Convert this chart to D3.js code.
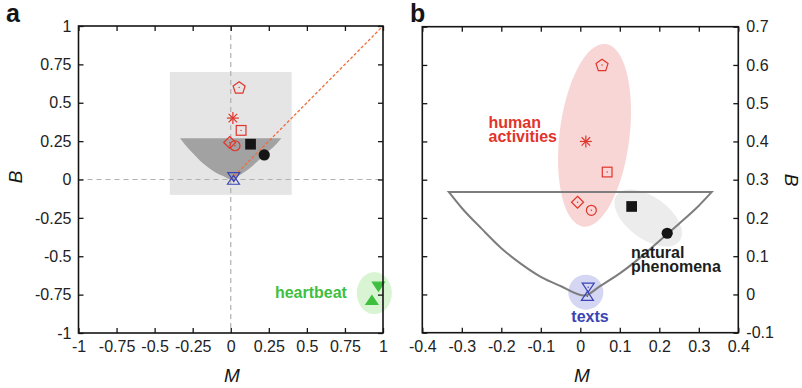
<!DOCTYPE html>
<html>
<head>
<meta charset="utf-8">
<script src="https://cdn.jsdelivr.net/npm/d3@7"></script>
<style>
  body { margin: 0; background: #fff; }
  svg { display: block; }
  text { font-family: "Liberation Sans", Arial, Helvetica, sans-serif; }
</style>
</head>
<body>
<div id="chart"></div>
<script>
// ---- data (M = memory coefficient, B = burstiness) ----
// human activities
var humanM = [0.055, 0.014, 0.068, -0.007, 0.028];
var humanB = [0.600, 0.400, 0.320, 0.241, 0.220];
var humanShape = ["pentagon", "asterisk", "square", "diamond", "circle"];

// natural phenomena
var naturalM = [0.130, 0.220];
var naturalB = [0.230, 0.160];
var naturalShape = ["square", "circle"];

// texts
var textsM = [0.020, 0.018];
var textsB = [0.019, -0.005];
var textsShape = ["triangleDown", "triangleUp"];

// heartbeat
var heartM = [0.970, 0.927];
var heartB = [-0.695, -0.788];
var heartShape = ["triangleDown", "triangleUp"];

// boundary of the region
var boundM = [-0.333, -0.3, -0.25, -0.2, -0.15, -0.1, -0.05, 0.01, 0.05, 0.1, 0.15, 0.2, 0.25, 0.3, 0.333];
var boundB = [0.268, 0.226, 0.172, 0.121, 0.080, 0.046, 0.022, -0.003, 0.022, 0.055, 0.095, 0.140, 0.185, 0.232, 0.268];

// ticks
var ticksA = [-1, -0.75, -0.5, -0.25, 0, 0.25, 0.5, 0.75, 1];
var tickLabelsA = ["-1", "-0.75", "-0.5", "-0.25", "0", "0.25", "0.5", "0.75", "1"];
var xTicksB = [-0.4, -0.3, -0.2, -0.1, 0, 0.1, 0.2, 0.3, 0.4];
var xTickLabelsB = ["-0.4", "-0.3", "-0.2", "-0.1", "0", "0.1", "0.2", "0.3", "0.4"];
var yTicksB = [-0.1, 0, 0.1, 0.2, 0.3, 0.4, 0.5, 0.6, 0.7];
var yTickLabelsB = ["-0.1", "0", "0.1", "0.2", "0.3", "0.4", "0.5", "0.6", "0.7"];

// colours
var red = "#e1342b";
var blue = "#3a44b2";
var green = "#3fbf3f";
var dark = "#151515";

var svg = d3.select("#chart").append("svg")
    .attr("width", 802)
    .attr("height", 388);

// scales
var xA = d3.scaleLinear().domain([-1, 1]).range([78.5, 383]);
var yA = d3.scaleLinear().domain([-1, 1]).range([333, 26]);
var xB = d3.scaleLinear().domain([-0.4, 0.4]).range([422.3, 738.3]);
var yB = d3.scaleLinear().domain([-0.1, 0.7]).range([332.7, 26.7]);

// draw one marker
function marker(g, shape, cx, cy, color, filled) {
    var m = g.append("g").attr("transform", "translate(" + cx + "," + cy + ")");
    var fill = filled ? color : "none";
    var sw = 1.2;
    var dot = !filled;
    if (shape == "pentagon") {
        var pts = d3.range(5).map(function(k) {
            var a = (-90 + k * 72) * Math.PI / 180;
            return [6.3 * Math.cos(a), 6.3 * Math.sin(a) + 0.6];
        });
        m.append("polygon").attr("points", pts.join(" "))
            .attr("fill", fill).attr("stroke", color).attr("stroke-width", sw);
    } else if (shape == "asterisk") {
        d3.range(4).forEach(function(k) {
            var a = k * 45 * Math.PI / 180;
            m.append("line")
                .attr("x1", -6 * Math.cos(a)).attr("y1", -6 * Math.sin(a))
                .attr("x2", 6 * Math.cos(a)).attr("y2", 6 * Math.sin(a))
                .attr("stroke", color).attr("stroke-width", sw);
        });
        dot = false;
    } else if (shape == "square") {
        var s = filled ? 10.7 : 9.7;
        m.append("rect").attr("x", -s / 2).attr("y", -s / 2).attr("width", s).attr("height", s)
            .attr("fill", fill).attr("stroke", color).attr("stroke-width", filled ? 0 : sw);
    } else if (shape == "diamond") {
        m.append("polygon").attr("points", "0,-6 6,0 0,6 -6,0")
            .attr("fill", fill).attr("stroke", color).attr("stroke-width", sw);
    } else if (shape == "circle") {
        m.append("circle").attr("r", filled ? 5.6 : 5)
            .attr("fill", fill).attr("stroke", color).attr("stroke-width", filled ? 0 : sw);
    } else if (shape == "triangleUp") {
        m.append("polygon").attr("points", "0,-5 6,4 -6,4")
            .attr("fill", fill).attr("stroke", color).attr("stroke-width", sw);
    } else if (shape == "triangleDown") {
        m.append("polygon").attr("points", "0,5 6,-4 -6,-4")
            .attr("fill", fill).attr("stroke", color).attr("stroke-width", sw);
    }
    if (dot) {
        m.append("circle").attr("r", 0.7).attr("fill", color);
    }
}

function group(g, x, y, ms, bs, shapes, color, filled) {
    ms.forEach(function(mv, i) {
        marker(g, shapes[i], x(mv), y(bs[i]), color, filled);
    });
}

// axes with inward ticks on all four sides
function frame(g, x, y, xt, xl, yt, yl, labelSide) {
    var x0 = x.range()[0], x1 = x.range()[1];
    var y0 = y.range()[1], y1 = y.range()[0];

    var bottom = g.append("g").attr("transform", "translate(0," + y1 + ")")
        .call(d3.axisBottom(x).tickValues(xt).tickSize(-5).tickPadding(8)
            .tickFormat(function(d, i) { return xl[i]; }));
    g.append("g").attr("transform", "translate(0," + y0 + ")")
        .call(d3.axisTop(x).tickValues(xt).tickSize(-5).tickFormat(""));

    var left, right;
    if (labelSide == "left") {
        left = d3.axisLeft(y).tickValues(yt).tickSize(-5).tickPadding(7)
            .tickFormat(function(d, i) { return yl[i]; });
        right = d3.axisRight(y).tickValues(yt).tickSize(-5).tickFormat("");
    } else {
        left = d3.axisLeft(y).tickValues(yt).tickSize(-5).tickFormat("");
        right = d3.axisRight(y).tickValues(yt).tickSize(-5).tickPadding(8)
            .tickFormat(function(d, i) { return yl[i]; });
    }
    g.append("g").attr("transform", "translate(" + x0 + ",0)").call(left);
    g.append("g").attr("transform", "translate(" + x1 + ",0)").call(right);

    g.selectAll(".domain").remove();
    g.selectAll(".tick line").attr("stroke", dark).attr("stroke-width", 1.3);
    g.selectAll(".tick text")
        .attr("font-size", 16)
        .attr("font-family", '"Liberation Sans", Arial, sans-serif')
        .attr("fill", "#222");

    g.append("rect")
        .attr("x", x0).attr("y", y0)
        .attr("width", x1 - x0).attr("height", y1 - y0)
        .attr("fill", "none").attr("stroke", dark).attr("stroke-width", 1.6);
}

var boundLine = d3.line().curve(d3.curveMonotoneX);

// ****************** panel a ******************
var ga = svg.append("g");

// region shown in panel b
ga.append("rect")
    .attr("x", xA(xB.domain()[0])).attr("y", yA(yB.domain()[1]))
    .attr("width", xA(xB.domain()[1]) - xA(xB.domain()[0]))
    .attr("height", yA(yB.domain()[0]) - yA(yB.domain()[1]))
    .attr("fill", "#e5e5e5");

// dashed zero lines
ga.append("line")
    .attr("x1", xA(0)).attr("x2", xA(0)).attr("y1", yA(1)).attr("y2", yA(-1))
    .attr("stroke", "#b0b0b0").attr("stroke-width", 1.2).attr("stroke-dasharray", "5,4");
ga.append("line")
    .attr("x1", xA(-1)).attr("x2", xA(1)).attr("y1", yA(0)).attr("y2", yA(0))
    .attr("stroke", "#b0b0b0").attr("stroke-width", 1.2).attr("stroke-dasharray", "5,4");

// filled region
var ptsA = boundM.map(function(m, i) { return [xA(m), yA(boundB[i])]; });
ga.append("path")
    .attr("d", boundLine(ptsA) + "Z")
    .attr("fill", "#a2a2a2");

// heartbeat ellipse
ga.append("ellipse")
    .attr("cx", xA(0.943)).attr("cy", yA(-0.74))
    .attr("rx", 17.5).attr("ry", 21)
    .attr("fill", "#d8f4d2");

// B = M diagonal
ga.append("line")
    .attr("x1", xA(0)).attr("y1", yA(0)).attr("x2", xA(1)).attr("y2", yA(1))
    .attr("stroke", "#f26b3a").attr("stroke-width", 1.3).attr("stroke-dasharray", "3,2");

group(ga, xA, yA, humanM, humanB, humanShape, red, false);
group(ga, xA, yA, naturalM, naturalB, naturalShape, dark, true);
group(ga, xA, yA, textsM, textsB, textsShape, blue, false);
group(ga, xA, yA, heartM, heartB, heartShape, green, true);

ga.append("text")
    .attr("x", xA(0.763)).attr("y", yA(-0.775))
    .attr("text-anchor", "end")
    .attr("font-size", 16).attr("font-weight", "bold")
    .attr("fill", green)
    .text("heartbeat");

frame(ga, xA, yA, ticksA, tickLabelsA, ticksA, tickLabelsA, "left");

ga.append("text")
    .attr("x", 232).attr("y", 381.5)
    .attr("text-anchor", "middle")
    .attr("font-size", 19).attr("font-style", "italic")
    .attr("fill", dark)
    .text("M");
ga.append("text")
    .attr("transform", "translate(21.5,177) rotate(-90)")
    .attr("text-anchor", "middle")
    .attr("font-size", 19).attr("font-style", "italic")
    .attr("fill", dark)
    .text("B");
ga.append("text")
    .attr("x", 6).attr("y", 21.5)
    .attr("font-size", 25).attr("font-weight", "bold")
    .attr("fill", dark)
    .text("a");

// ****************** panel b ******************
var gb = svg.append("g");

// group ellipses
gb.append("ellipse")
    .attr("transform", "translate(" + xB(0.036) + "," + yB(0.416) + ") rotate(7)")
    .attr("rx", 35).attr("ry", 92)
    .attr("fill", "#f8d6d6");
gb.append("ellipse")
    .attr("transform", "translate(" + xB(0.172) + "," + yB(0.2) + ") rotate(36)")
    .attr("rx", 39).attr("ry", 21)
    .attr("fill", "#ececec");
gb.append("circle")
    .attr("cx", xB(0.014)).attr("cy", yB(0.006))
    .attr("r", 17.5)
    .attr("fill", "#d5d6f3");

// region outline
var ptsB = boundM.map(function(m, i) { return [xB(m), yB(boundB[i])]; });
gb.append("path")
    .attr("d", boundLine(ptsB) + "Z")
    .attr("fill", "none")
    .attr("stroke", "#7d7d7d").attr("stroke-width", 2);

group(gb, xB, yB, humanM, humanB, humanShape, red, false);
group(gb, xB, yB, naturalM, naturalB, naturalShape, dark, true);
group(gb, xB, yB, textsM, textsB, textsShape, blue, false);

// group labels
var hum = gb.append("text")
    .attr("font-size", 16).attr("font-weight", "bold").attr("fill", red);
hum.append("tspan").attr("x", 488.5).attr("y", 128.3).text("human");
hum.append("tspan").attr("x", 488.5).attr("y", 142.3).text("activities");

var nat = gb.append("text")
    .attr("font-size", 16).attr("font-weight", "bold").attr("fill", "#1c1c1c");
nat.append("tspan").attr("x", 631).attr("y", 257.7).text("natural");
nat.append("tspan").attr("x", 631).attr("y", 272.3).text("phenomena");

gb.append("text")
    .attr("x", 590).attr("y", 322)
    .attr("text-anchor", "middle")
    .attr("font-size", 16).attr("font-weight", "bold").attr("fill", blue)
    .text("texts");

frame(gb, xB, yB, xTicksB, xTickLabelsB, yTicksB, yTickLabelsB, "right");

gb.append("text")
    .attr("x", 582).attr("y", 381.5)
    .attr("text-anchor", "middle")
    .attr("font-size", 19).attr("font-style", "italic")
    .attr("fill", dark)
    .text("M");
gb.append("text")
    .attr("transform", "translate(785,180) rotate(90)")
    .attr("text-anchor", "middle")
    .attr("font-size", 19).attr("font-style", "italic")
    .attr("fill", dark)
    .text("B");
gb.append("text")
    .attr("x", 410).attr("y", 21.5)
    .attr("font-size", 25).attr("font-weight", "bold")
    .attr("fill", dark)
    .text("b");
</script>
</body>
</html>
